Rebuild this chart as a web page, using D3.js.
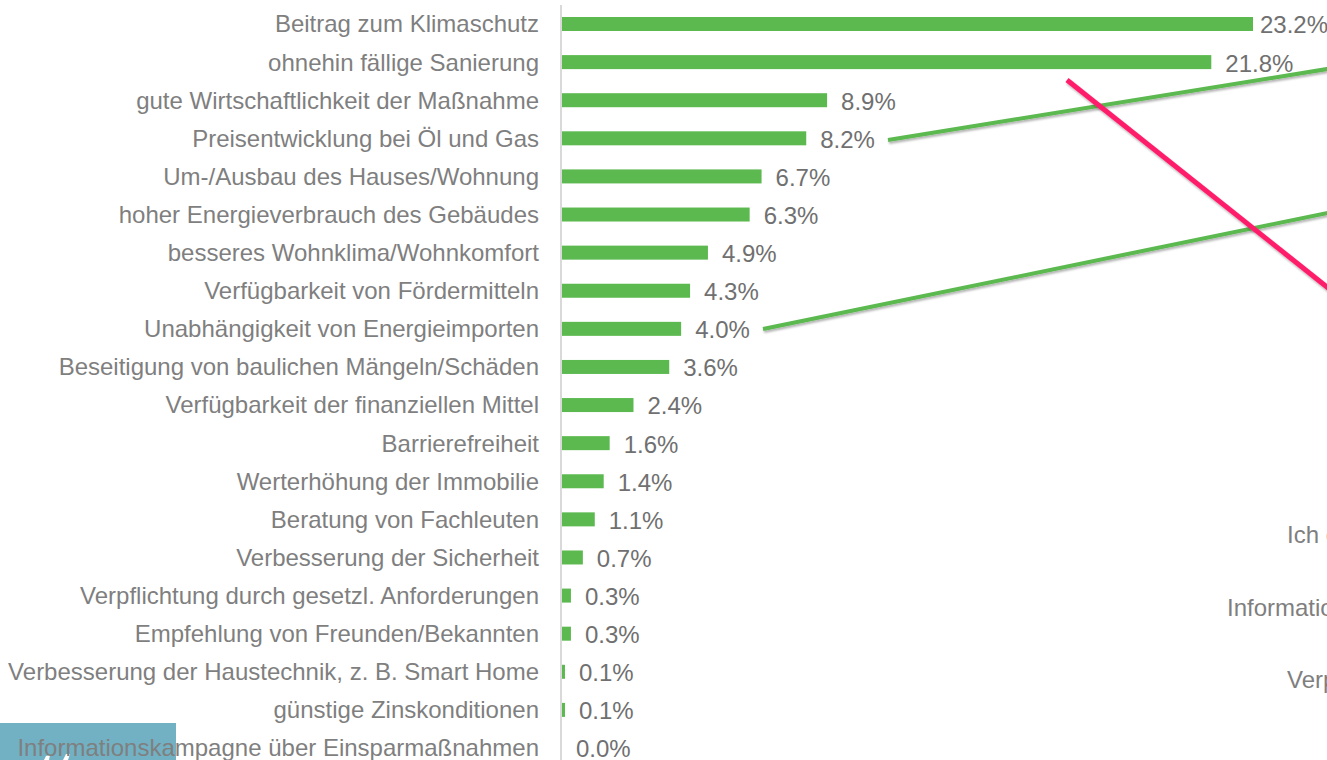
<!DOCTYPE html>
<html>
<head>
<meta charset="utf-8">
<script src="https://cdn.jsdelivr.net/npm/d3@7/dist/d3.min.js"></script>
<style>
  html, body { margin: 0; padding: 0; background: #fff; overflow: hidden; }
  svg { display: block; font-family: "Liberation Sans", Arial, sans-serif; }
</style>
</head>
<body>
<svg id="chart" width="1327" height="760"></svg>
<script>
const categories = [
  "Beitrag zum Klimaschutz",
  "ohnehin fällige Sanierung",
  "gute Wirtschaftlichkeit der Maßnahme",
  "Preisentwicklung bei Öl und Gas",
  "Um-/Ausbau des Hauses/Wohnung",
  "hoher Energieverbrauch des Gebäudes",
  "besseres Wohnklima/Wohnkomfort",
  "Verfügbarkeit von Fördermitteln",
  "Unabhängigkeit von Energieimporten",
  "Beseitigung von baulichen Mängeln/Schäden",
  "Verfügbarkeit der finanziellen Mittel",
  "Barrierefreiheit",
  "Werterhöhung der Immobilie",
  "Beratung von Fachleuten",
  "Verbesserung der Sicherheit",
  "Verpflichtung durch gesetzl. Anforderungen",
  "Empfehlung von Freunden/Bekannten",
  "Verbesserung der Haustechnik, z. B. Smart Home",
  "günstige Zinskonditionen",
  "Informationskampagne über Einsparmaßnahmen"
];
const values = [23.2, 21.8, 8.9, 8.2, 6.7, 6.3, 4.9, 4.3, 4.0, 3.6, 2.4, 1.6, 1.4, 1.1, 0.7, 0.3, 0.3, 0.1, 0.1, 0.0];
const sideTexts = ["Ich c", "Informatio", "Verp"];

const svg = d3.select("#chart");
const defs = svg.append("defs");
const f = defs.append("filter").attr("id", "shadow").attr("x", "-10%").attr("y", "-50%").attr("width", "120%").attr("height", "200%");
f.append("feDropShadow").attr("dx", 1).attr("dy", 2).attr("stdDeviation", 1.2)
  .attr("flood-color", "#000").attr("flood-opacity", 0.3);

const x = d3.scaleLinear().domain([0, 23.2]).range([562, 1253]);
const y = d3.scalePoint().domain(categories).range([24, 748]);
const barH = 14;
const fs = 24;

// teal box (behind the last label)
svg.append("rect").attr("x", 0).attr("y", 723).attr("width", 176).attr("height", 37).attr("fill", "#72b1c3");
svg.append("path").attr("d", "M44,760 L46,756 L50,755 L49,760 Z M63,760 L66,754 L70,754 L68,760 Z").attr("fill", "#ffffff");

// axis line
svg.append("line").attr("x1", 561).attr("x2", 561).attr("y1", 5).attr("y2", 760)
  .attr("stroke", "#d9d9d9").attr("stroke-width", 2);

// bars
svg.append("g").selectAll("rect").data(values).join("rect")
  .attr("x", x(0))
  .attr("y", (d, i) => y(categories[i]) - barH / 2)
  .attr("width", d => x(d) - x(0))
  .attr("height", barH)
  .attr("fill", "#5bb94f");

// category labels
svg.append("g").selectAll("text").data(categories).join("text")
  .attr("x", 539)
  .attr("y", d => y(d))
  .attr("dy", "0.35em")
  .attr("text-anchor", "end")
  .attr("font-size", fs)
  .attr("fill", "#7f7f7f")
  .text(d => d);

// value labels
svg.append("g").selectAll("text").data(values).join("text")
  .attr("x", d => Math.min(x(d) + 14, 1260))
  .attr("y", (d, i) => y(categories[i]) + 1)
  .attr("dy", "0.35em")
  .attr("font-size", fs)
  .attr("fill", "#707070")
  .text(d => d.toFixed(1) + "%");

// annotation lines (leader lines running off to the right)
const ann = [
  { x1: 888, y1: 140, x2: 1327, y2: 69, color: "#5bb94f", w: 4 },
  { x1: 763, y1: 329, x2: 1327, y2: 213, color: "#5bb94f", w: 4 },
  { x1: 1067, y1: 80, x2: 1327, y2: 287, color: "#ff1f6b", w: 5 }
];
svg.append("g").selectAll("line").data(ann).join("line")
  .attr("x1", d => d.x1).attr("y1", d => d.y1)
  .attr("x2", d => d.x2 + 10).attr("y2", d => d.y2 + (d.y2 - d.y1) / (d.x2 - d.x1) * 10)
  .attr("stroke", d => d.color).attr("stroke-width", d => d.w)
  .attr("filter", "url(#shadow)");

// cut-off texts on the right edge
const sideX = [1287, 1227, 1287];
const sideY = [535, 608, 680];
svg.append("g").selectAll("text").data(sideTexts).join("text")
  .attr("x", (d, i) => sideX[i])
  .attr("y", (d, i) => sideY[i])
  .attr("dy", "0.35em")
  .attr("font-size", fs)
  .attr("fill", "#7f7f7f")
  .text(d => d);
</script>
</body>
</html>
